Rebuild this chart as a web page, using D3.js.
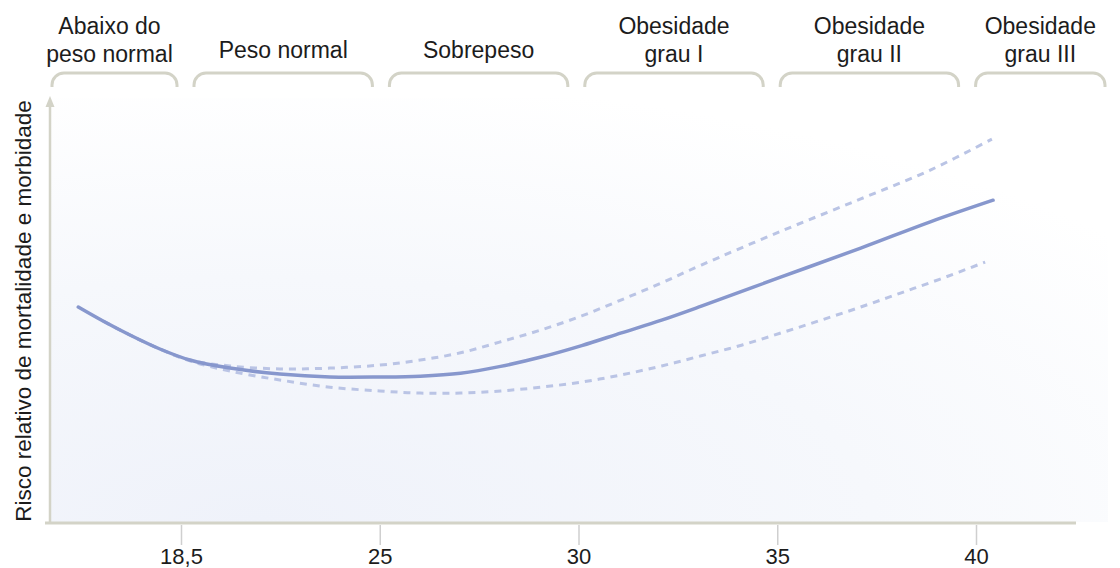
<!DOCTYPE html>
<html>
<head>
<meta charset="utf-8">
<script src="https://cdn.jsdelivr.net/npm/d3@7"></script>
<style>
  body { margin: 0; background: #fff; }
  svg { display: block; }
  text { font-family: "Liberation Sans", Arial, sans-serif; fill: #1c1c1c; }
</style>
</head>
<body>
<div id="chart"></div>
<script>
// BMI ticks on the x axis
const ticks = [18.5, 25, 30, 35, 40];
const tickLabels = ['18,5', '25', '30', '35', '40'];

// categories above the plot, split into lines
const categories = [
  ['Abaixo do', 'peso normal'],
  ['Peso normal'],
  ['Sobrepeso'],
  ['Obesidade', 'grau I'],
  ['Obesidade', 'grau II'],
  ['Obesidade', 'grau III'],
];

const yLabel = 'Risco relativo de mortalidade e morbidade';

// [BMI, relative risk (arbitrary units)]
const riskMain = [
  [15.14, 5.07], [15.95, 4.74], [16.83, 4.41], [17.81, 4.08], [18.79, 3.82],
  [20.10, 3.63], [21.73, 3.49], [23.37, 3.42], [25.0, 3.42], [26.02, 3.44],
  [27.03, 3.51], [28.04, 3.67], [29.06, 3.89], [30.08, 4.16], [31.08, 4.46],
  [32.09, 4.76], [33.09, 5.09], [35.1, 5.78], [37.1, 6.46], [38.85, 7.08],
  [40.43, 7.59],
];
const riskUpper = [
  [15.95, 4.74], [16.83, 4.41], [17.81, 4.08], [18.79, 3.82], [20.10, 3.68],
  [21.73, 3.61], [23.37, 3.63], [25.0, 3.70], [26.02, 3.82], [27.03, 3.99],
  [28.04, 4.25], [29.06, 4.53], [30.08, 4.86], [31.08, 5.24], [32.09, 5.64],
  [33.09, 6.06], [35.1, 6.86], [37.1, 7.62], [38.85, 8.30], [40.40, 9.03],
];
const riskLower = [
  [15.95, 4.74], [16.83, 4.41], [17.81, 4.08], [18.79, 3.80], [20.10, 3.56],
  [21.73, 3.35], [23.37, 3.18], [25.0, 3.09], [26.02, 3.04], [27.03, 3.04],
  [28.04, 3.09], [29.06, 3.18], [30.08, 3.30], [31.08, 3.47], [32.09, 3.68],
  [33.09, 3.92], [34.10, 4.17], [35.1, 4.46], [36.1, 4.76], [37.1, 5.07],
  [38.1, 5.40], [39.1, 5.73], [40.23, 6.13],
];

const W = 1120;
const H = 568;
const axisColor = '#d3d3c7';

const plot = { left: 50, right: 1108, top: 98, bottom: 522 };

// ticks are equally spaced in the drawing, so the scale is piecewise
const x = d3.scaleLinear()
  .domain(ticks)
  .range(ticks.map((d, i) => 181 + i * 198.75));

const y = d3.scaleLinear()
  .domain([0, 10])
  .range([plot.bottom, plot.top]);

// header brackets sit on their own, slightly narrower, grid
const head = d3.scaleLinear()
  .domain([0, categories.length])
  .range([-9.9, 1162.5]);

const svg = d3.select('#chart').append('svg')
  .attr('width', W)
  .attr('height', H);

const defs = svg.append('defs');
const grad = defs.append('radialGradient')
  .attr('id', 'bg')
  .attr('cx', 0.2).attr('cy', 1).attr('r', 1.05);
grad.append('stop').attr('offset', 0).attr('stop-color', '#eff2fa');
grad.append('stop').attr('offset', 0.55).attr('stop-color', '#f6f8fc');
grad.append('stop').attr('offset', 1).attr('stop-color', '#ffffff');

svg.append('rect')
  .attr('x', plot.left).attr('y', plot.top)
  .attr('width', plot.right - plot.left)
  .attr('height', plot.bottom - plot.top)
  .attr('fill', 'url(#bg)');

// category brackets
const bTop = 73;
const bBottom = 87;
const br = 12;
const gap = 8.5;

const heads = svg.append('g').attr('class', 'heads');
categories.forEach((lines, i) => {
  const x0 = Math.max(52, head(i) + gap);
  const x1 = Math.min(1105, head(i + 1) - gap);
  heads.append('path')
    .attr('d', `M${x0},${bBottom} L${x0},${bTop + br} A${br},${br} 0 0 1 ${x0 + br},${bTop}`
      + ` L${x1 - br},${bTop} A${br},${br} 0 0 1 ${x1},${bTop + br} L${x1},${bBottom}`)
    .attr('fill', 'none')
    .attr('stroke', axisColor)
    .attr('stroke-width', 3);

  const cx = (x0 + x1) / 2 - (i === 0 ? 5 : 0);
  const t = heads.append('text')
    .attr('text-anchor', 'middle')
    .style('font-size', '23px');
  if (lines.length === 1) {
    t.append('tspan').attr('x', cx).attr('y', 58).text(lines[0]);
  } else {
    lines.forEach((l, k) => {
      t.append('tspan').attr('x', cx).attr('y', 34 + k * 28).text(l);
    });
  }
});

// axes
svg.append('line')
  .attr('x1', 45).attr('x2', 1076)
  .attr('y1', 523).attr('y2', 523)
  .attr('stroke', axisColor)
  .attr('stroke-width', 3);

svg.append('line')
  .attr('x1', plot.left).attr('x2', plot.left)
  .attr('y1', 523).attr('y2', 104)
  .attr('stroke', axisColor)
  .attr('stroke-width', 2.5);

svg.append('path')
  .attr('d', `M${plot.left - 4.5},107 L${plot.left},96 L${plot.left + 4.5},107 Z`)
  .attr('fill', axisColor);

const xAxis = d3.axisBottom(x)
  .tickValues(ticks)
  .tickFormat((d, i) => tickLabels[i])
  .tickSize(20)
  .tickSizeOuter(0)
  .tickPadding(3);

const gx = svg.append('g')
  .attr('transform', 'translate(0,525)')
  .call(xAxis);
gx.select('.domain').remove();
gx.selectAll('.tick line')
  .attr('stroke', '#cfcfcf')
  .attr('stroke-width', 1.5);
gx.selectAll('.tick text')
  .attr('fill', '#1c1c1c')
  .style('font-family', '"Liberation Sans", Arial, sans-serif')
  .style('font-size', '22px');

svg.append('text')
  .attr('transform', `translate(31,${(plot.top + plot.bottom) / 2 + 1}) rotate(-90)`)
  .attr('text-anchor', 'middle')
  .style('font-size', '22.5px')
  .text(yLabel);

// curves
const line = d3.line()
  .x(d => x(d[0]))
  .y(d => y(d[1]))
  .curve(d3.curveCatmullRom.alpha(0.5));

[riskUpper, riskLower].forEach((s) => {
  svg.append('path')
    .datum(s)
    .attr('d', line)
    .attr('fill', 'none')
    .attr('stroke', '#bac4e5')
    .attr('stroke-width', 3)
    .attr('stroke-dasharray', '7,6');
});

svg.append('path')
  .datum(riskMain)
  .attr('d', line)
  .attr('fill', 'none')
  .attr('stroke', '#8797cd')
  .attr('stroke-width', 3.5)
  .attr('stroke-linecap', 'round');
</script>
</body>
</html>
